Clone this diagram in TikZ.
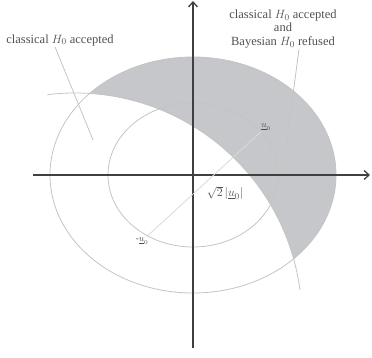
\documentclass[tikz,border=0pt]{standalone}
\usepackage{fontspec}
\setmainfont{Liberation Serif}
\usetikzlibrary{arrows.meta}
\definecolor{inkgrey}{HTML}{505050}
\definecolor{hairgrey}{HTML}{C4C4C4}
\definecolor{palegrey}{HTML}{DADADA}
\definecolor{shadegrey}{HTML}{C6C7CA}

\begin{document}
\begin{tikzpicture}[x=1pt,y=1pt,font=\fontsize{12.5}{13.5}\selectfont,
  ax/.style={-{Straight Barb[length=5pt,width=9pt]},draw=black!75,line width=1.3pt},
  fine/.style={draw=hairgrey,line width=0.8pt},
  lbl/.style={text=inkgrey,align=center,inner sep=1pt},
  vec/.style={text=inkgrey,font=\fontsize{9}{10}\selectfont,inner sep=1pt}]
\useasboundingbox (-193,-183) rectangle (179,175);
\coordinate (O) at (0,0); \coordinate (C) at (-118,-145);

\begin{scope}
\clip (O) ellipse (143 and 118);
\fill[shadegrey,even odd rule] (-200,-200) rectangle (200,200) (C) circle (227);
\end{scope}
\draw[fine] (O) ellipse (143 and 118);
\draw[fine] (O) ellipse (85 and 72);
\draw[fine] (C) ++(7.6:227) arc[start angle=7.6,end angle=97,radius=227];

\coordinate (xl) at (-160,0); \coordinate (xr) at (177,0);
\coordinate (yb) at (0,-173); \coordinate (yt) at (0,174);
\draw[ax] (xl)--(xr); \draw[ax] (yb)--(yt);

\node[vec] (mu) at (-51,-66) {-$\underline{u}_0$};
\node[vec] (pu) at (73,48) {$\underline{u}_0$};
\draw[fine,draw=palegrey] (mu)--(pu);
\node[lbl,font=\fontsize{13}{14}\selectfont] (len) at (32,-18) {$\sqrt{2}\,|\underline{u}_0|$};

\node[lbl] (cl) at (-133,135) {classical $H_0$ accepted};
\coordinate (clp) at (-100,35);
\draw[fine] ([xshift=-5pt]cl.south)--(clp);
\node[lbl] (cb) at (90,146) {classical $H_0$ accepted\\and\\Bayesian $H_0$ refused};
\coordinate (cbp) at (93,28);
\draw[fine] ([xshift=16pt]cb.south)--(cbp);
\end{tikzpicture}
\end{document}
